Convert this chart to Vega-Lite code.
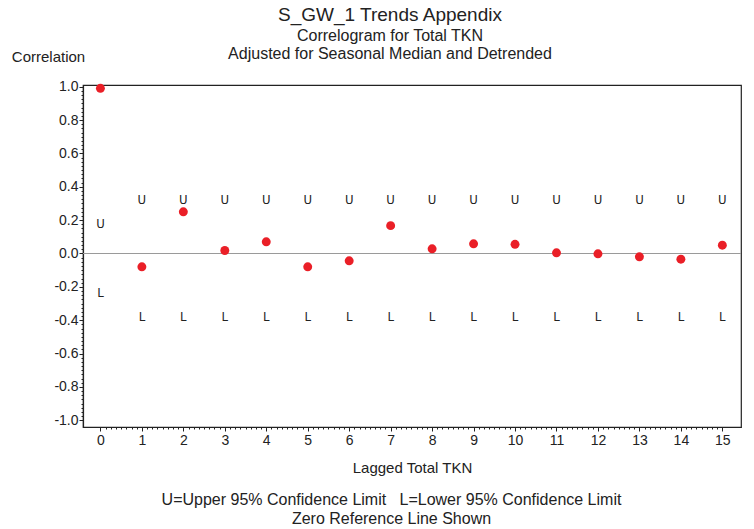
{
  "$schema": "https://vega.github.io/schema/vega-lite/v6.json",
  "width": 658,
  "height": 342,
  "autosize": "none",
  "padding": {"left": 83, "top": 85, "right": 13, "bottom": 102},
  "background": "white",
  "config": {
    "view": {"stroke": "#222", "strokeWidth": 1.2},
    "font": "Liberation Sans",
    "axis": {"grid": false, "domainColor": "#222", "tickColor": "#222", "labelColor": "#222", "titleColor": "#222", "labelFont": "Liberation Sans", "titleFont": "Liberation Sans"}
  },
  "title": {
    "text": "S_GW_1 Trends Appendix",
    "subtitle": ["Correlogram for Total TKN", "Adjusted for Seasonal Median and Detrended"],
    "fontSize": 19,
    "fontWeight": "normal",
    "subtitleFontSize": 16,
    "subtitleLineHeight": 18,
    "subtitlePadding": 3,
    "subtitleColor": "#222",
    "color": "#222",
    "anchor": "middle",
    "frame": "group",
    "dx": -22,
    "offset": -13
  },
  "data": {
    "values": [
      {"lag": 0, "r": 0.99, "upper": 0.179, "lower": -0.236},
      {"lag": 1, "r": -0.08, "upper": 0.323, "lower": -0.38},
      {"lag": 2, "r": 0.25, "upper": 0.323, "lower": -0.38},
      {"lag": 3, "r": 0.018, "upper": 0.323, "lower": -0.38},
      {"lag": 4, "r": 0.07, "upper": 0.323, "lower": -0.38},
      {"lag": 5, "r": -0.08, "upper": 0.323, "lower": -0.38},
      {"lag": 6, "r": -0.044, "upper": 0.323, "lower": -0.38},
      {"lag": 7, "r": 0.167, "upper": 0.323, "lower": -0.38},
      {"lag": 8, "r": 0.028, "upper": 0.323, "lower": -0.38},
      {"lag": 9, "r": 0.058, "upper": 0.323, "lower": -0.38},
      {"lag": 10, "r": 0.055, "upper": 0.323, "lower": -0.38},
      {"lag": 11, "r": 0.004, "upper": 0.323, "lower": -0.38},
      {"lag": 12, "r": -0.002, "upper": 0.323, "lower": -0.38},
      {"lag": 13, "r": -0.02, "upper": 0.323, "lower": -0.38},
      {"lag": 14, "r": -0.034, "upper": 0.323, "lower": -0.38},
      {"lag": 15, "r": 0.05, "upper": 0.323, "lower": -0.38}
    ]
  },
  "resolve": {"axis": {"x": "independent", "y": "independent"}},
  "layer": [
    {
      "mark": {"type": "rule", "color": "#9a9a9a", "strokeWidth": 1.1},
      "encoding": {"y": {"datum": 0, "type": "quantitative", "axis": null}}
    },
    {
      "mark": {"type": "point", "opacity": 0},
      "encoding": {
        "x": {"field": "lag", "type": "quantitative", "scale": {"domain": [-0.42, 15.45], "nice": false, "zero": false},
          "axis": {"values": [0,0.125,0.25,0.375,0.5,0.625,0.75,0.875,1,1.125,1.25,1.375,1.5,1.625,1.75,1.875,2,2.125,2.25,2.375,2.5,2.625,2.75,2.875,3,3.125,3.25,3.375,3.5,3.625,3.75,3.875,4,4.125,4.25,4.375,4.5,4.625,4.75,4.875,5,5.125,5.25,5.375,5.5,5.625,5.75,5.875,6,6.125,6.25,6.375,6.5,6.625,6.75,6.875,7,7.125,7.25,7.375,7.5,7.625,7.75,7.875,8,8.125,8.25,8.375,8.5,8.625,8.75,8.875,9,9.125,9.25,9.375,9.5,9.625,9.75,9.875,10,10.125,10.25,10.375,10.5,10.625,10.75,10.875,11,11.125,11.25,11.375,11.5,11.625,11.75,11.875,12,12.125,12.25,12.375,12.5,12.625,12.75,12.875,13,13.125,13.25,13.375,13.5,13.625,13.75,13.875,14,14.125,14.25,14.375,14.5,14.625,14.75,14.875,15],
            "labels": false, "tickSize": 2, "domain": false, "orient": "bottom",
            "title": ["U=Upper 95% Confidence Limit\u00a0\u00a0\u00a0L=Lower 95% Confidence Limit", "Zero Reference Line Shown"],
            "titleFontSize": 16, "titleFontWeight": "normal", "titleLineHeight": 19,
            "titleX": 308, "titleY": 64, "titleBaseline": "top", "titleAlign": "center"}},
        "y": {"field": "r", "type": "quantitative", "scale": {"domain": [-1.04, 1.01], "nice": false, "zero": false},
          "axis": {"values": [-1,-0.975,-0.95,-0.925,-0.9,-0.875,-0.85,-0.825,-0.8,-0.775,-0.75,-0.725,-0.7,-0.675,-0.65,-0.625,-0.6,-0.575,-0.55,-0.525,-0.5,-0.475,-0.45,-0.425,-0.4,-0.375,-0.35,-0.325,-0.3,-0.275,-0.25,-0.225,-0.2,-0.175,-0.15,-0.125,-0.1,-0.075,-0.05,-0.025,0,0.025,0.05,0.075,0.1,0.125,0.15,0.175,0.2,0.225,0.25,0.275,0.3,0.325,0.35,0.375,0.4,0.425,0.45,0.475,0.5,0.525,0.55,0.575,0.6,0.625,0.65,0.675,0.7,0.725,0.75,0.775,0.8,0.825,0.85,0.875,0.9,0.925,0.95,0.975,1],
            "labels": false, "tickSize": 2, "domain": false, "orient": "left", "title": null}}
      }
    },
    {
      "mark": {"type": "text", "text": "U", "font": "DejaVu Sans Condensed, DejaVu Sans", "fontSize": 13, "fontWeight": 300, "color": "#222", "baseline": "middle", "align": "center"},
      "encoding": {
        "x": {"field": "lag", "type": "quantitative", "axis": null},
        "y": {"field": "upper", "type": "quantitative", "axis": null}
      }
    },
    {
      "mark": {"type": "text", "text": "L", "font": "DejaVu Sans Condensed, DejaVu Sans", "fontSize": 13, "fontWeight": 300, "color": "#222", "baseline": "middle", "align": "center"},
      "encoding": {
        "x": {"field": "lag", "type": "quantitative", "axis": null},
        "y": {"field": "lower", "type": "quantitative", "axis": null}
      }
    },
    {
      "mark": {"type": "circle", "color": "#ea1f27", "opacity": 1, "size": 80},
      "encoding": {
        "x": {"field": "lag", "type": "quantitative",
          "axis": {"orient": "bottom", "values": [0,1,2,3,4,5,6,7,8,9,10,11,12,13,14,15], "tickSize": 4, "labelFontSize": 14, "labelPadding": 2, "domainWidth": 1.2,
            "title": "Lagged Total TKN", "titleFontSize": 15, "titleFontWeight": "normal", "titleX": 329, "titleY": 40, "titleBaseline": "middle", "titleAlign": "center"}},
        "y": {"field": "r", "type": "quantitative",
          "axis": {"orient": "left", "values": [-1,-0.8,-0.6,-0.4,-0.2,0,0.2,0.4,0.6,0.8,1], "labelExpr": "replace(format(datum.value, '.1f'), '\u2212', '-')", "tickSize": 4, "labelFontSize": 14, "labelPadding": 1, "domainWidth": 1.2,
            "title": "Correlation", "titleFontSize": 15, "titleFontWeight": "normal", "titleAngle": 0, "titleX": -35, "titleY": -29, "titleBaseline": "middle", "titleAlign": "center"}}
      }
    }
  ]
}
